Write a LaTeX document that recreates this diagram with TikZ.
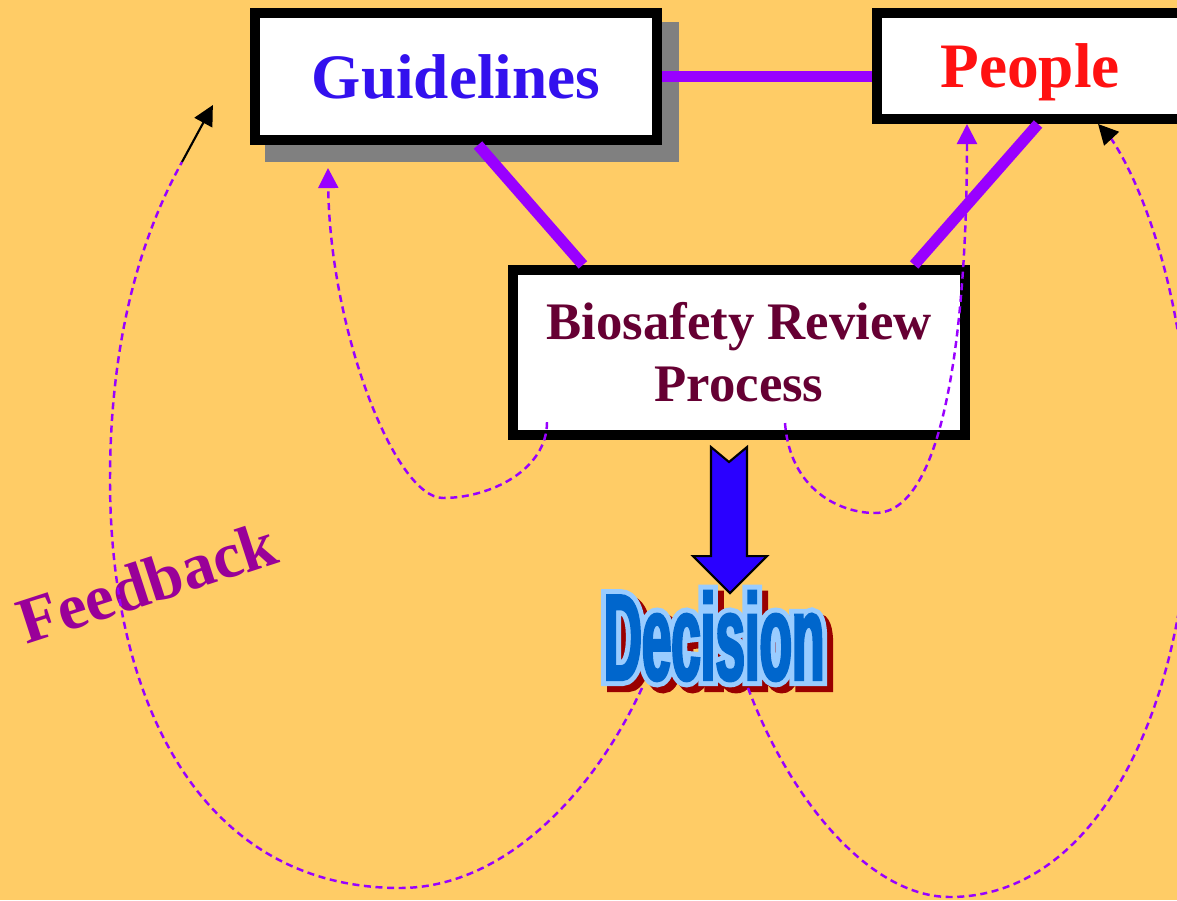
\documentclass[tikz,border=0pt]{standalone}
\usepackage{fontspec}
\setmainfont{Liberation Serif}
\newfontfamily\decfont[FakeStretch=0.43,FakeBold=2]{Liberation Sans}
\newfontfamily\decrim[FakeStretch=0.43,FakeBold=10]{Liberation Sans}
\usepackage{tikz}
\usetikzlibrary{calc,positioning,arrows.meta}
\definecolor{bgyellow}{HTML}{FFCC66}
\definecolor{linkviolet}{HTML}{9900FF}
\definecolor{guideblue}{HTML}{3311EE}
\definecolor{peoplered}{HTML}{FF1111}
\definecolor{biomaroon}{HTML}{660033}
\definecolor{fbpurple}{HTML}{990099}
\definecolor{arrowblue}{HTML}{2A00FF}
\definecolor{decblue}{HTML}{0066CC}
\definecolor{declight}{HTML}{99CCFF}
\definecolor{decshadow}{HTML}{990000}
\definecolor{shadowgray}{HTML}{808080}

\begin{document}
\begin{tikzpicture}[x=0.01cm,y=0.01cm,
    box node/.style={rectangle,draw=black,fill=white,line width=2.85pt,inner sep=0pt,font=\bfseries},
    link/.style={-,line width=3.2pt,draw=linkviolet},
    fb line/.style={draw=linkviolet,line width=0.7pt,dash pattern=on 2pt off 1.3pt},
    fb tip/.style={-{Triangle[width=5.7pt,length=5.7pt]}},
    dec text/.style={font=\decfont\bfseries\fontsize{35}{40}\selectfont,inner sep=0pt},
    dec rim/.style={font=\decrim\bfseries\fontsize{35}{40}\selectfont,inner sep=0pt}]

\useasboundingbox (0,0) rectangle (1177,900);
\fill[bgyellow] (0,0) rectangle (1177,900);

% boxes
\fill[shadowgray] (265,878) rectangle (679,738);
\node[box node,minimum width=4.02cm,minimum height=1.27cm,text=guideblue,
      font=\bfseries\fontsize{18}{21}\selectfont] (guide) at (456,823.5) {Guidelines};
\node[box node,minimum width=3.06cm,minimum height=1.06cm,text=peoplered,text depth=0pt,
      font=\bfseries\fontsize{18}{21}\selectfont] (people) at (1030,834) {People};
\node[box node,minimum width=4.52cm,minimum height=1.65cm,text=biomaroon,align=center,
      font=\bfseries\fontsize{15}{17.6}\selectfont] (bio) at (739,547.5) {Biosafety Review\\Process};

\draw[link] (guide.east) -- (guide.east -| people.west);
\draw[link] ([xshift=0.22cm]guide.south) -- ([xshift=-1.56cm]bio.north);
\draw[link] ([xshift=0.08cm]people.south) -- ([xshift=1.75cm]bio.north);

% decision
\node[dec rim,text=decshadow] (decsh) at (720,258) {Decision};
\node[dec rim,text=declight] (decrim) at (714,264) {Decision};
\node[dec text,text=decblue] (dec) at (714,264) {Decision};

\begin{scope}[shift={(bio.south)}]
\draw[fill=arrowblue,line width=0.6pt,line join=miter]
  (-28,-7) -- (-10,-22) -- (8,-7) -- (8,-116) -- (28,-116) -- (-9,-153) -- (-46,-116) -- (-28,-116) -- cycle;
\end{scope}

\node[font=\bfseries\fontsize{18.5}{22}\selectfont,text=fbpurple,rotate=18] (fb) at (147,318) {Feedback};

% feedback loops
\draw[fb line,fb tip] ($(bio.south)+(-192,18)$) .. controls (547,430) and (490,402) .. (443,402)
   .. controls (395,402) and (330,570) .. ($(guide.south)+(-128,-23)$);
\draw[fb line,fb tip] ($(bio.south)+(46,17)$) .. controls (790,410) and (840,387) .. (875,387)
   .. controls (950,387) and (967,600) .. ([xshift=-0.63cm]people.south);

\coordinate (leftend) at (182,738);
\coordinate (rightend) at (1110,763);
\draw[fb line] ($(dec.center)+(-72,-52)$) .. controls (590,100) and (500,12) .. (400,12)
   .. controls (200,12) and (110,200) .. (110,420) .. controls (110,580) and (150,680) .. (leftend);
\draw[black,line width=0.6pt,-{Triangle[width=5.7pt,length=5.7pt]}] (leftend) -- ($(guide.south west)+(-37,40)$);
\draw[fb line] ($(dec.center)+(34,-52)$) .. controls (790,100) and (870,3) .. (950,3)
   .. controls (1100,3) and (1190,200) .. (1190,420) .. controls (1190,600) and (1140,720) .. (rightend);
\draw[black,line width=0.6pt,-{Triangle[width=5.7pt,length=5.7pt]}] (rightend) -- ([xshift=0.68cm]people.south);

\end{tikzpicture}
\end{document}
